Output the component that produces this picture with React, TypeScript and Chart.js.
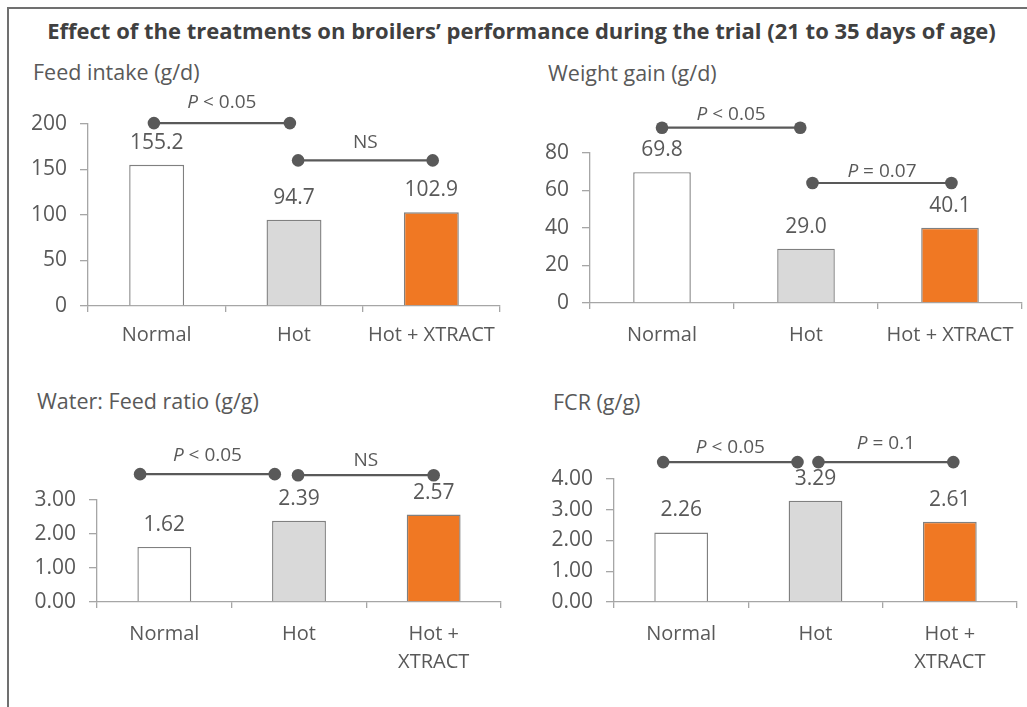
import React, { useEffect, useRef } from "react";
import { Chart, registerables } from "chart.js";

Chart.register(...registerables);

// ---------- data ----------
const chartTitle =
  "Effect of the treatments on broilers’ performance during the trial (21 to 35 days of age)";

const categoriesWide = ["Normal", "Hot", "Hot + XTRACT"];
const categoriesNarrow = ["Normal", "Hot", ["Hot +", "XTRACT"]];

const feedIntakeValues = [155.2, 94.7, 102.9];
const weightGainValues = [69.8, 29.0, 40.1];
const waterFeedValues = [1.62, 2.39, 2.57];
const fcrValues = [2.26, 3.29, 2.61];

const feedIntakeTicks = [0, 50, 100, 150, 200];
const weightGainTicks = [0, 20, 40, 60, 80];
const waterFeedTicks = [0, 1, 2, 3];
const fcrTicks = [0, 1, 2, 3, 4];

// comparison brackets: span in category index, height in data units
const feedIntakeBrackets = [
  { from: -0.02, to: 0.97, value: 201, italic: "P", text: " < 0.05" },
  { from: 1.03, to: 2.01, value: 160, italic: "", text: "NS" },
];
const weightGainBrackets = [
  { from: 0.0, to: 0.96, value: 93.5, italic: "P", text: " < 0.05" },
  { from: 1.045, to: 2.01, value: 64, italic: "P", text: " = 0.07" },
];
const waterFeedBrackets = [
  { from: -0.18, to: 0.82, value: 3.76, italic: "P", text: " < 0.05" },
  { from: 0.993, to: 2.0, value: 3.73, italic: "", text: "NS" },
];
const fcrBrackets = [
  { from: -0.134, to: 0.866, value: 4.55, italic: "P", text: " < 0.05" },
  { from: 1.022, to: 2.026, value: 4.55, italic: "P", text: " = 0.1" },
];

// ---------- style ----------
const FONT = "'Open Sans', 'Noto Sans', sans-serif";
const TEXT = "#595959";
const AXIS = "#a6a6a6";
const BAR_BORDER = "#808080";
const BAR_COLORS = ["#ffffff", "#d9d9d9", "#f07823"];
const MARK = "#595959";
const NOTE_SIZE = 19;

const panels = [
  {
    subtitle: "Feed intake (g/d)",
    values: feedIntakeValues,
    ticks: feedIntakeTicks,
    categories: categoriesWide,
    brackets: feedIntakeBrackets,
    tickDecimals: 0,
    valueDecimals: 1,
    box: { left: 10, top: 88, width: 500, height: 272 },
    yW: 78,
    xH: 54,
    padTop: 36,
    padRight: 10,
    xPad: 9,
    labelOffsets: [20, 18],
    sub: { left: 33, top: 59 },
  },
  {
    subtitle: "Weight gain (g/d)",
    values: weightGainValues,
    ticks: weightGainTicks,
    categories: categoriesWide,
    brackets: weightGainBrackets,
    tickDecimals: 0,
    valueDecimals: 1,
    box: { left: 512, top: 88, width: 515, height: 272 },
    yW: 78,
    xH: 57,
    padTop: 65,
    padRight: 5,
    xPad: 12,
    labelOffsets: [13, 11],
    sub: { left: 548, top: 60 },
  },
  {
    subtitle: "Water: Feed ratio (g/g)",
    values: waterFeedValues,
    ticks: waterFeedTicks,
    categories: categoriesNarrow,
    brackets: waterFeedBrackets,
    tickDecimals: 2,
    valueDecimals: 2,
    box: { left: 10, top: 420, width: 500, height: 287 },
    yW: 87,
    xH: 105,
    padTop: 80,
    padRight: 9,
    xPad: 12,
    labelOffsets: [19, 15],
    sub: { left: 37, top: 388 },
  },
  {
    subtitle: "FCR (g/g)",
    values: fcrValues,
    ticks: fcrTicks,
    categories: categoriesNarrow,
    brackets: fcrBrackets,
    tickDecimals: 2,
    valueDecimals: 2,
    box: { left: 512, top: 420, width: 515, height: 287 },
    yW: 102,
    xH: 105,
    padTop: 59,
    padRight: 10,
    xPad: 12,
    labelOffsets: [14, 18],
    sub: { left: 553, top: 389 },
  },
];

const annotPlugin = {
  id: "annot",
  afterDatasetsDraw(chart: any, _args: any, opts: any) {
    const { ctx } = chart;
    const xs = chart.scales.x;
    const ys = chart.scales.y;
    const meta = chart.getDatasetMeta(0);
    const data = chart.data.datasets[0].data;
    ctx.save();
    ctx.fillStyle = TEXT;
    ctx.textAlign = "center";
    ctx.textBaseline = "middle";
    ctx.font = `21px ${FONT}`;
    meta.data.forEach((bar: any, i: number) => {
      ctx.fillText(Number(data[i]).toFixed(opts.decimals), bar.x, bar.y - 22);
    });

    (opts.brackets || []).forEach((b: any, k: number) => {
      const x1 = xs.getPixelForValue(b.from);
      const x2 = xs.getPixelForValue(b.to);
      const y = ys.getPixelForValue(b.value);
      ctx.strokeStyle = MARK;
      ctx.fillStyle = MARK;
      ctx.lineWidth = 2.2;
      ctx.beginPath();
      ctx.moveTo(x1, y);
      ctx.lineTo(x2, y);
      ctx.stroke();
      [x1, x2].forEach((x) => {
        ctx.beginPath();
        ctx.arc(x, y, 6.3, 0, Math.PI * 2);
        ctx.fill();
      });
      // label
      const ty = y - opts.labelOffsets[k];
      const mid = (x1 + x2) / 2;
      ctx.textBaseline = "middle";
      ctx.textAlign = "left";
      ctx.font = `italic ${NOTE_SIZE}px ${FONT}`;
      const w1 = b.italic ? ctx.measureText(b.italic).width : 0;
      ctx.font = `${NOTE_SIZE}px ${FONT}`;
      const w2 = ctx.measureText(b.text).width;
      let x = mid - (w1 + w2) / 2;
      ctx.fillStyle = TEXT;
      if (b.italic) {
        ctx.font = `italic ${NOTE_SIZE}px ${FONT}`;
        ctx.fillText(b.italic, x, ty);
        x += w1;
      }
      ctx.font = `${NOTE_SIZE}px ${FONT}`;
      ctx.fillText(b.text, x, ty);
    });
    ctx.restore();
  },
};

function Panel({ p }: { p: any }) {
  const ref = useRef<HTMLCanvasElement | null>(null);
  useEffect(() => {
    if (!ref.current) return;
    const tickArr: number[] = p.ticks;
    const chart = new Chart(ref.current, {
      type: "bar",
      data: {
        labels: p.categories,
        datasets: [
          {
            data: p.values,
            backgroundColor: BAR_COLORS,
            borderColor: BAR_BORDER,
            borderWidth: 1.4,
            barPercentage: 0.4,
            categoryPercentage: 1,
          },
        ],
      },
      options: {
        responsive: false,
        maintainAspectRatio: false,
        animation: false,
        events: [],
        layout: { padding: { top: p.padTop, right: p.padRight, left: 0, bottom: 0 } },
        plugins: {
          legend: { display: false },
          tooltip: { enabled: false },
          title: { display: false },
          annot: {
            brackets: p.brackets,
            decimals: p.valueDecimals,
            labelOffsets: p.labelOffsets,
          },
        } as any,
        scales: {
          x: {
            offset: true,
            grid: {
              display: true,
              offset: true,
              drawOnChartArea: false,
              drawTicks: true,
              tickLength: 6,
              color: AXIS,
              lineWidth: 1.3,
            },
            border: { display: true, color: AXIS, width: 1.3 },
            ticks: {
              color: TEXT,
              font: { family: FONT, size: 20, lineHeight: 1.4 },
              padding: p.xPad,
              maxRotation: 0,
              autoSkip: false,
            },
            afterFit: (s: any) => {
              s.height = p.xH;
            },
          },
          y: {
            min: tickArr[0],
            max: tickArr[tickArr.length - 1],
            grid: {
              display: true,
              drawOnChartArea: false,
              drawTicks: true,
              tickLength: 8,
              color: AXIS,
              lineWidth: 1.3,
            },
            border: { display: true, color: AXIS, width: 1.3 },
            ticks: {
              color: TEXT,
              font: { family: FONT, size: 21 },
              padding: 13,
              callback: (v: any) => Number(v).toFixed(p.tickDecimals),
            },
            afterBuildTicks: (s: any) => {
              s.ticks = tickArr.map((v) => ({ value: v }));
            },
            afterFit: (s: any) => {
              s.width = p.yW;
            },
          },
        },
      },
      plugins: [annotPlugin as any],
    });
    return () => chart.destroy();
  }, [p]);
  return (
    <>
      <div
        style={{
          position: "absolute",
          left: p.sub.left,
          top: p.sub.top,
          font: `21.5px/26px ${FONT}`,
          color: TEXT,
          whiteSpace: "nowrap",
        }}
      >
        {p.subtitle}
      </div>
      <canvas
        ref={ref}
        width={p.box.width}
        height={p.box.height}
        style={{
          position: "absolute",
          left: p.box.left,
          top: p.box.top,
          width: p.box.width,
          height: p.box.height,
        }}
      />
    </>
  );
}

export default function App() {
  return (
    <div
      style={{
        position: "absolute",
        left: 0,
        top: 0,
        width: 1027,
        height: 707,
        background: "#ffffff",
        overflow: "hidden",
        fontFamily: FONT,
      }}
    >
      <div
        style={{
          position: "absolute",
          left: 7,
          top: 7,
          right: 0,
          bottom: 0,
          borderTop: "2px solid #707070",
          borderLeft: "2px solid #707070",
        }}
      />
      <div
        style={{
          position: "absolute",
          left: 16,
          top: 16,
          width: 1011,
          textAlign: "center",
          font: `bold 22px/28px ${FONT}`,
          color: "#404040",
          whiteSpace: "nowrap",
        }}
      >
        {chartTitle}
      </div>
      {panels.map((p, i) => (
        <Panel key={i} p={p} />
      ))}
    </div>
  );
}
